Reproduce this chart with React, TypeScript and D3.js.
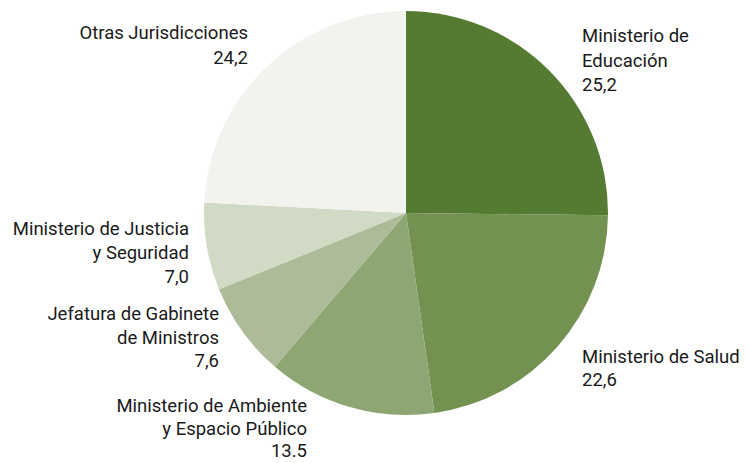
import React, { useEffect, useRef } from "react";
import * as d3 from "d3";

const categories = [
  "Ministerio de Educación",
  "Ministerio de Salud",
  "Ministerio de Ambiente y Espacio Público",
  "Jefatura de Gabinete de Ministros",
  "Ministerio de Justicia y Seguridad",
  "Otras Jurisdicciones",
];
const values = [25.2, 22.6, 13.5, 7.6, 7.0, 24.2];
const valueLabels = ["25,2", "22,6", "13.5", "7,6", "7,0", "24,2"];
const colors = ["#557b32", "#739150", "#8ea673", "#adbc98", "#d1dac5", "#f2f3ee"];

// label lines per slice
const labelLines = [
  ["Ministerio de", "Educación"],
  ["Ministerio de Salud"],
  ["Ministerio de Ambiente", "y Espacio Público"],
  ["Jefatura de Gabinete", "de Ministros"],
  ["Ministerio de Justicia", "y Seguridad"],
  ["Otras Jurisdicciones"],
];
const labelPos = [
  { x: 582, y: 42, anchor: "start", lh: 24.5 },
  { x: 582, y: 363, anchor: "start", lh: 23 },
  { x: 307, y: 412, anchor: "end", lh: 22.5 },
  { x: 219, y: 320, anchor: "end", lh: 23.5 },
  { x: 189, y: 235, anchor: "end", lh: 24 },
  { x: 248, y: 39, anchor: "end", lh: 25 },
];

export default function App() {
  const ref = useRef<SVGSVGElement>(null);

  useEffect(() => {
    const svg = d3.select(ref.current);
    svg.selectAll("*").remove();

    const cx = 406, cy = 213, r = 202;

    const pie = d3.pie<number>().sort(null).value(d => d);
    const arc = d3.arc<d3.PieArcDatum<number>>().innerRadius(0).outerRadius(r);

    const g = svg.append("g").attr("transform", `translate(${cx},${cy})`);
    g.selectAll("path")
      .data(pie(values))
      .join("path")
      .attr("d", arc)
      .attr("fill", (d, i) => colors[i]);

    const labels = svg.append("g")
      .style("font-family", "Roboto, sans-serif")
      .style("font-size", "18.5px")
      .attr("fill", "#1a1a1a");

    categories.forEach((c, i) => {
      const p = labelPos[i];
      const t = labels.append("text")
        .attr("text-anchor", p.anchor)
        .attr("x", p.x)
        .attr("y", p.y);
      const lines = [...labelLines[i], valueLabels[i]];
      lines.forEach((ln, j) => {
        t.append("tspan")
          .attr("x", p.x)
          .attr("y", p.y + j * p.lh)
          .text(ln);
      });
    });
  }, []);

  return (
    <svg ref={ref} width={748} height={463}
      style={{ position: "absolute", left: 0, top: 0 }} />
  );
}
